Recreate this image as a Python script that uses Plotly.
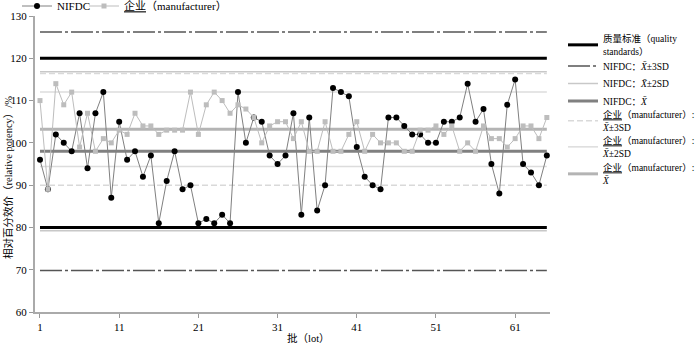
import plotly.graph_objects as go

lots = list(range(1, 66))
nifdc = [96, 89, 102, 100, 98, 107, 94, 107, 112, 87,
         105, 96, 98, 92, 97, 81, 91, 98, 89, 90,
         81, 82, 81, 83, 81, 112, 100, 106, 105, 97,
         95, 97, 107, 83, 106, 84, 90, 113, 112, 111,
         99, 92, 90, 89, 106, 106, 104, 102, 102, 100,
         100, 105, 105, 106, 114, 105, 108, 95, 88, 109,
         115, 95, 93, 90, 97]
manufacturer = [110, 89, 114, 109, 112, 99, 107, 98, 101, 100,
                103, 102, 107, 104, 104, 102, 103, 103, 103, 112,
                102, 109, 112, 110, 107, 109, 108, 106, 100, 104,
                105, 105, 101, 105, 98, 98, 105, 98, 98, 102,
                105, 98, 102, 100, 100, 100, 98, 98, 103, 103,
                104, 102, 104, 98, 100, 98, 104, 101, 101, 99,
                101, 104, 104, 101, 106]

quality_low, quality_high = 80, 120
nifdc_mean, nifdc_sd = 98.0, 9.4
mfr_mean, mfr_sd = 103.2, 4.4

x_ticks = [1, 11, 21, 31, 41, 51, 61]
y_ticks = [60, 70, 80, 90, 100, 110, 120, 130]

FONT = "Liberation Serif, Noto Sans CJK SC"
x0, x1 = lots[0], lots[-1]
PLOT_LEFT, PLOT_RIGHT, PLOT_TOP, PLOT_BOTTOM = 35, 550, 16, 312


def band(center, half):
    return [x0, x1, None, x0, x1], [center + half, center + half, None, center - half, center - half]


def px_x(px):
    return (px - PLOT_LEFT) / (PLOT_RIGHT - PLOT_LEFT)


def px_y(px):
    return (PLOT_BOTTOM - px) / (PLOT_BOTTOM - PLOT_TOP)


fig = go.Figure()

ref_lines = [
    ("质量标准（quality<br>standards）", [x0, x1, None, x0, x1],
     [quality_high, quality_high, None, quality_low, quality_low], "#000000", 3, "solid"),
    ("NIFDC：<i>X̄</i>±3SD", *band(nifdc_mean, 3 * nifdc_sd), "#555555", 1.5, "22px,3px,3px,3px"),
    ("NIFDC：<i>X̄</i>±2SD", *band(nifdc_mean, 2 * nifdc_sd), "#c8c8c8", 1.5, "solid"),
    ("NIFDC：<i>X̄</i>", [x0, x1], [nifdc_mean, nifdc_mean], "#808080", 3, "solid"),
    ("<u>企业</u>（manufacturer）:<br><i>X̄</i>±3SD", *band(mfr_mean, 3 * mfr_sd), "#d9d9d9", 1.5, "6px,3px"),
    ("<u>企业</u>（manufacturer）:<br><i>X̄</i>±2SD", *band(mfr_mean, 2 * mfr_sd), "#dcdcdc", 1.5, "solid"),
    ("<u>企业</u>（manufacturer）:<br><i>X̄</i>", [x0, x1], [mfr_mean, mfr_mean], "#b4b4b4", 3, "solid"),
]
# vertical centre of each right-hand legend entry, in pixels from the top of the figure
legend_px = [45, 66, 83.5, 101, 121, 147, 174]

legend_layouts = {}
for i, ((name, xs, ys, color, width, dash), ypx) in enumerate(zip(ref_lines, legend_px)):
    lname = "legend%d" % (i + 2)
    fig.add_trace(go.Scatter(x=xs, y=ys, mode="lines", name=name, legend=lname,
                             line=dict(color=color, width=width, dash=dash),
                             hoverinfo="skip", connectgaps=False))
    legend_layouts[lname] = dict(
        orientation="v", x=px_x(563), xanchor="left",
        y=px_y(ypx), yanchor="middle",
        font=dict(family=FONT, size=9.5), itemwidth=30,
        bgcolor="rgba(0,0,0,0)")

fig.add_trace(go.Scatter(x=lots, y=nifdc, mode="lines+markers", name="NIFDC",
                         legend="legend",
                         line=dict(color="#808080", width=1),
                         marker=dict(symbol="circle", size=6, color="#000000")))
fig.add_trace(go.Scatter(x=lots, y=manufacturer, mode="lines+markers",
                         name="<u>企业</u>（manufacturer）", legend="legend9",
                         line=dict(color="#bdbdbd", width=1),
                         marker=dict(symbol="square", size=5, color="#bdbdbd")))

top_legend = dict(orientation="h", xanchor="left", y=px_y(6), yanchor="middle",
                  font=dict(family=FONT, size=11), itemwidth=30,
                  bgcolor="rgba(0,0,0,0)")

fig.update_layout(
    width=700, height=347,
    margin=dict(l=PLOT_LEFT, r=700 - PLOT_RIGHT, t=PLOT_TOP, b=347 - PLOT_BOTTOM,
                autoexpand=False),
    plot_bgcolor="white", paper_bgcolor="white",
    font=dict(family=FONT, size=10, color="#000000"),
    showlegend=True,
    legend=dict(top_legend, x=px_x(17)),
    legend9=dict(top_legend, x=px_x(84)),
    xaxis=dict(range=[0.37, 65.4], tickmode="array", tickvals=x_ticks,
               ticktext=[str(v) for v in x_ticks], ticks="outside", ticklen=4,
               tickcolor="#999999", showline=True, linecolor="#aaaaaa", linewidth=1.5,
               showgrid=False, zeroline=False,
               tickfont=dict(family=FONT, size=11)),
    yaxis=dict(range=[60, 130], tickmode="array", tickvals=y_ticks,
               ticktext=[str(v) for v in y_ticks], ticks="outside", ticklen=4,
               tickcolor="#999999", showline=True, linecolor="#aaaaaa", linewidth=2,
               showgrid=False, zeroline=False,
               tickfont=dict(family=FONT, size=11)),
    annotations=[
        dict(text="相对百分效价（relative potency）/%", xref="paper", yref="paper",
             x=px_x(8), y=px_y(178), xanchor="center", yanchor="middle", textangle=-90,
             showarrow=False, font=dict(family=FONT, size=10.5)),
        dict(text="批（lot）", xref="paper", yref="paper", x=px_x(308), y=px_y(338),
             xanchor="center", yanchor="middle", showarrow=False,
             font=dict(family=FONT, size=10.5)),
    ],
    **legend_layouts,
)

fig.write_html("out.html", config={"displayModeBar": False},
               post_script="document.body.style.margin='0';document.body.style.overflow='hidden';")
